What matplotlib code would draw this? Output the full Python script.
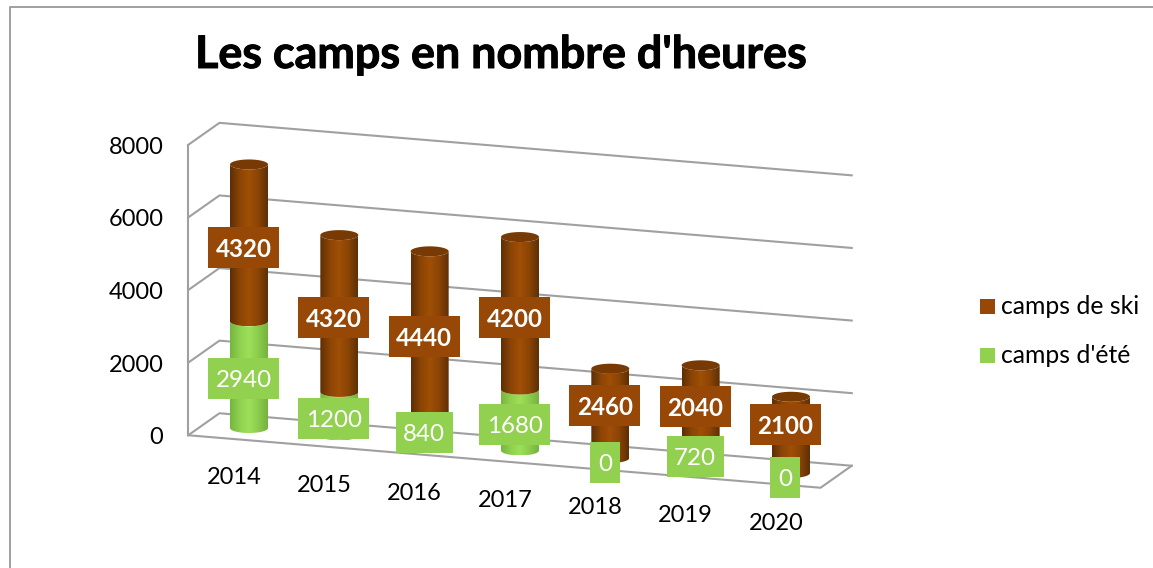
import matplotlib

matplotlib.use("Agg")
import matplotlib.patheffects as pe
import matplotlib.pyplot as plt
import numpy as np
from matplotlib.patches import PathPatch, Polygon, Rectangle
from matplotlib.path import Path
from matplotlib.colors import LinearSegmentedColormap

years = ["2014", "2015", "2016", "2017", "2018", "2019", "2020"]
camps_ete = [2940, 1200, 840, 1680, 0, 720, 0]
camps_ski = [4320, 4320, 4440, 4200, 2460, 2040, 2100]
value_ticks = [0, 2000, 4000, 6000, 8000]

# labels that were moved by hand in the original (pixels, up is negative)
ski_label_nudge = [0, 0, 0, 0, -12, 0, -15]

BROWN = "#974706"
GREEN = "#92d050"
GRID = "#a0a0a0"
FONT = "Lato"

plt.rcParams["font.family"] = [FONT, "DejaVu Sans"]

fig = plt.figure(figsize=(11.53, 5.68), dpi=100)
ax = fig.add_axes([0, 0, 1, 1])
ax.set_xlim(0, 1153)
ax.set_ylim(568, 0)
ax.axis("off")


# fake 3d: category, value and depth (-1 front, 1 back) to pixels
def project(cat, value, depth=0.0):
    x = 249 + 90.33 * cat + 15.6 * depth
    y = 428 + 7.5 * cat - 0.0363 * value - 11 * depth
    return x, y


def cylinder(cat, v0, v1, colors, top_color=None):
    rx, ry = 19, 5
    cx, y_bot = project(cat, v0)
    _, y_top = project(cat, v1)
    t = np.linspace(np.pi, 0, 40)
    xs = cx + rx * np.cos(t)
    lower = y_bot + ry * np.sin(t)
    upper = y_top + ry * np.sin(t)
    verts = np.vstack(
        [np.column_stack([xs, lower]), np.column_stack([xs[::-1], upper[::-1]])]
    )
    path = Path(np.vstack([verts, verts[0]]), closed=True)
    cmap = LinearSegmentedColormap.from_list("c", colors)
    img = ax.imshow(
        np.linspace(0, 1, 64).reshape(1, -1),
        cmap=cmap,
        extent=(cx - rx, cx + rx, y_bot + ry, y_top - ry),
        aspect="auto",
        zorder=3,
    )
    patch = PathPatch(path, transform=ax.transData, fc="none", ec="none")
    ax.add_patch(patch)
    img.set_clip_path(patch)
    if top_color:
        t2 = np.linspace(0, 2 * np.pi, 60)
        ax.add_patch(
            Polygon(
                np.column_stack(
                    [cx + rx * np.cos(t2), y_top + ry * np.sin(t2)]
                ),
                closed=True,
                fc=top_color,
                ec="none",
                zorder=3,
            )
        )


def value_label(cat, value, center_value, color, bold, nudge=0):
    x, y = project(cat, center_value)
    w = {4: 71, 3: 57, 1: 30}[len(str(value))]
    x -= 5.5
    y += 4.3 + nudge
    ax.add_patch(Rectangle((x - w / 2, y - 20.5), w, 41, fc=color, ec="none", zorder=5))
    ax.text(
        x,
        y,
        str(value),
        color="white",
        fontsize=17.4,
        fontweight="bold" if bold else "normal",
        ha="center",
        va="center_baseline",
        zorder=6,
    )


# outer frame
ax.plot([9.5, 9.5, 1153], [568, 6.5, 6.5], color=GRID, lw=1.4, zorder=1)

# walls and gridlines
last = len(years) - 0.5
for v in value_ticks:
    xl, yl = project(-0.5, v, -1)
    xb, yb = project(-0.5, v, 1)
    xr, yr = project(last, v, 1)
    ax.plot([xl, xb, xr], [yl, yb, yr], color=GRID, lw=1.5, zorder=2)
    ax.text(163.5, yl + 2.5, str(v), fontsize=17, ha="right", va="center", color="black")
xa, ya = project(-0.5, 0, -1)
xb, yb = project(-0.5, value_ticks[-1], -1)
ax.plot([xa, xb], [ya, yb], color=GRID, lw=1.5, zorder=2)
xc, yc = project(last, 0, -1)
xd, yd = project(last, 0, 1)
ax.plot([xa, xc, xd], [ya, yc, yd], color=GRID, lw=1.5, zorder=2)

# cylinders
green_shades = ["#76b63f", "#8fd04e", "#9de058", "#8ccb4c", "#74b43e"]
brown_shades = ["#5e2f05", "#8a4405", "#a04f06", "#8a4405", "#5e2f05"]
for i, (ete, ski) in enumerate(zip(camps_ete, camps_ski)):
    if ete > 0:
        cylinder(i, 0, ete, green_shades)
    cylinder(i, ete, ete + ski, brown_shades, top_color="#783a05")

# data labels on top of everything
for i, (ete, ski) in enumerate(zip(camps_ete, camps_ski)):
    value_label(i, ete, ete / 2, GREEN, False)
    value_label(i, ski, ete + ski / 2, BROWN, True, ski_label_nudge[i])

# category labels
for i, year in enumerate(years):
    x, y = project(i, 0, -1)
    ax.text(x + 0.6, y + 39, year, fontsize=17, ha="center", va="center", color="black")

title = ax.text(
    500.5,
    55,
    "Les camps en nombre d'heures",
    fontsize=32.3,
    fontweight="bold",
    ha="center",
    va="center",
    color="black",
)
title.set_path_effects([pe.withStroke(linewidth=0.7, foreground="black")])

# legend
for y, color, label in [(299, BROWN, "camps de ski"), (348, GREEN, "camps d'été")]:
    ax.add_patch(Rectangle((980, y), 15, 15, fc=color, ec="none"))
    ax.text(1001, y + 7.5, label, fontsize=17.8, ha="left", va="center", color="black")

fig.savefig("out.png", dpi=100)
